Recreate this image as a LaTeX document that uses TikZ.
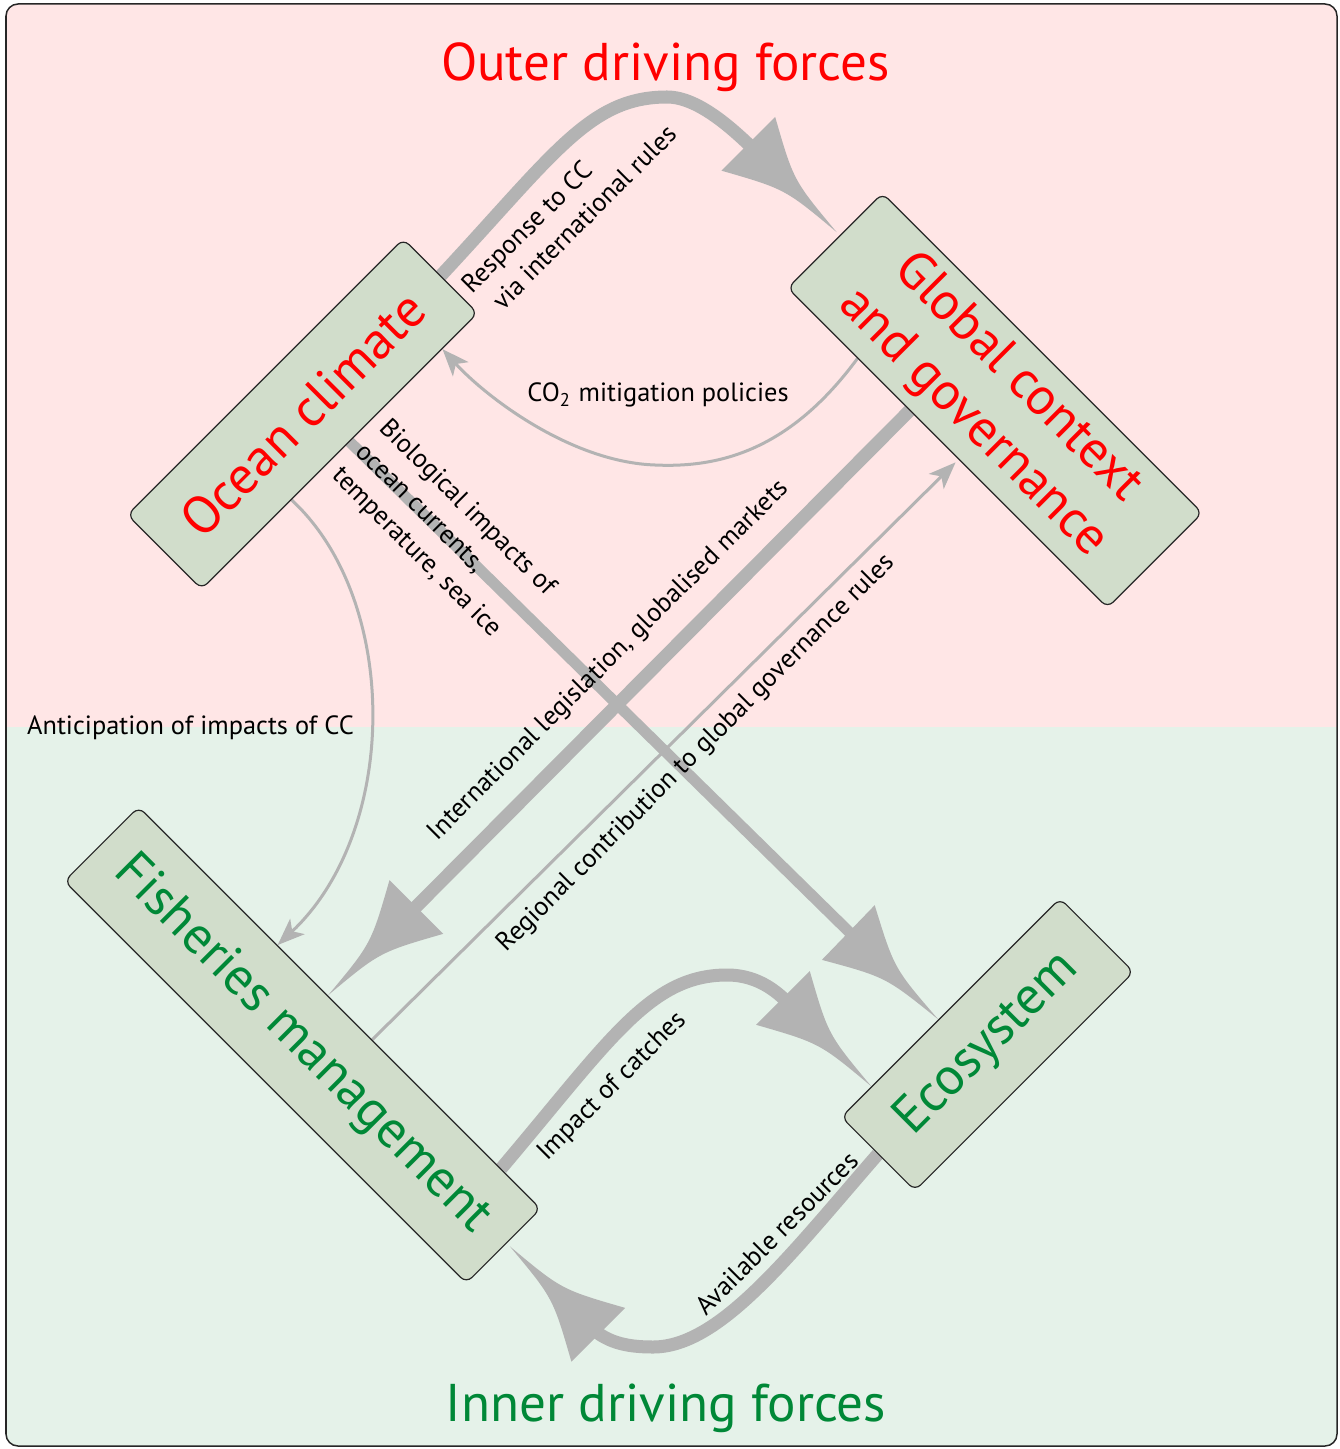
\documentclass[tikz,border=0pt]{standalone}
\usepackage{fontspec}
\setmainfont{PT Sans}
\usetikzlibrary{calc,arrows.meta}
\definecolor{pinkbg}{RGB}{255,230,230}
\definecolor{greenbg}{RGB}{229,242,233}
\definecolor{boxfill}{RGB}{209,221,203}
\definecolor{arrowgray}{RGB}{179,179,179}
\definecolor{redtext}{RGB}{255,0,0}
\definecolor{greentext}{RGB}{0,136,55}
\newcommand\lblfont{\fontsize{7.5}{9.6}\selectfont}
\newcommand\boxfont{\fontsize{15}{18}\selectfont}
\newcommand\ttlfont{\fontsize{15.1}{18}\selectfont}
\pgfdeclarelayer{bg}
\pgfdeclarelayer{arr}
\pgfsetlayers{bg,arr,main}
\tikzset{
  box/.style={draw=black!85, line width=0.012cm, fill=boxfill, rounded corners=0.08cm,
    inner sep=0pt, align=center, font=\boxfont},
  lbl/.style={inner sep=0pt, font=\lblfont, text=black},
  ttl/.style={inner sep=0pt, font=\ttlfont},
  shaft/.style={draw=arrowgray, line width=0.13cm},
  thinarr/.style={draw=arrowgray, line width=0.03cm,
    -{Stealth[length=0.27cm, width=0.21cm, inset=0.07cm]}},
  pics/bighead/.style={code={
    \fill[arrowgray] (0,0) .. controls (-67,6) .. (-125,38) -- (-125,-38)
      .. controls (-67,-6) .. (0,0) -- cycle;}}
}
\begin{document}
\begin{tikzpicture}[x=0.01cm,y=-0.01cm]
\useasboundingbox (0,0) rectangle (1339,1449);
% background
\begin{pgfonlayer}{bg}
  \begin{scope}
    \clip[rounded corners=0.12cm] (6,4) rectangle (1337,1446);
    \fill[pinkbg] (6,4) rectangle (1337,727);
    \fill[greenbg] (6,727) rectangle (1337,1446);
  \end{scope}
  \draw[rounded corners=0.12cm, line width=0.015cm, draw=black!85] (6,4) rectangle (1337,1446);
\end{pgfonlayer}

% boxes
\node[box, rotate=45, minimum width=3.9cm, minimum height=1.05cm, text=redtext]
  (oc) at (302.5,414) {Ocean climate};
\node[box, rotate=-45, minimum width=4.52cm, minimum height=1.34cm, text=redtext]
  (gc) at (995,400.5) {Global context\\and governance};
\node[box, rotate=-45, minimum width=5.68cm, minimum height=1.05cm, text=greentext]
  (fm) at (302.5,1045) {Fisheries management};
\node[box, rotate=45, minimum width=3.09cm, minimum height=1.04cm, text=greentext]
  (es) at (987.5,1044.5) {Ecosystem};

% titles
\node[ttl, text=redtext, anchor=base] (outer) at (665.5,81) {Outer driving forces};
\node[ttl, text=greentext, anchor=base] (inner) at (666,1421) {Inner driving forces};

% connector end points
\coordinate (tipA) at ($(gc.west)+(2,-8)$);
\coordinate (endA) at ($(tipA)+(-78,-78)$);
\coordinate (gS) at ($(fm.north)!0.8!(fm.north east)$);
\coordinate (tipG) at ($(es.north west)!0.28!(es.north)$);
\coordinate (endG) at ($(tipG)+(-78,-78)$);
\coordinate (tipH) at ($(fm.east)+(6,0)$);
\coordinate (endH) at ($(tipH)+(78,78)$);
\coordinate (cS) at ($(oc.south)!0.07!(oc.south east)$);
\coordinate (tipC) at ($(es.north west)!0.89!(es.north)$);
\coordinate (dS) at ($(gc.south west)!0.765!(gc.south)$);
\coordinate (tipD) at ($(fm.north west)!0.94!(fm.north)$);
\coordinate (bS) at ($(gc.south west)!0.44!(gc.south)$);
\coordinate (tipB) at ($(oc.south)!0.74!(oc.south east)$);
\coordinate (eS) at ($(fm.north)!0.16!(fm.north east)$);
\coordinate (tipE) at ($(gc.south)!0.07!(gc.south east)$);
\coordinate (fS) at ($(oc.south west)!0.65!(oc.south)$);
\coordinate (tipF) at ($(fm.north west)!0.69!(fm.north)$);

\begin{pgfonlayer}{arr}
  % Response to CC
  \draw[shaft] (oc.east) .. controls (555,153) and (590,97) .. (667,97)
     .. controls (700,97) and (737,133) .. (endA);
  \pic[rotate=-45] at (tipA) {bighead};
  % Impact of catches
  \draw[shaft] (gS) .. controls (610,1040) and (650,975) .. (727,975)
     .. controls (760,975) and (780,994) .. (endG);
  \pic[rotate=-45] at (tipG) {bighead};
  % Available resources
  \draw[shaft] (es.west) .. controls (790,1255) and (720,1347) .. (653,1347)
     .. controls (625,1347) and (605,1342) .. (endH);
  \pic[rotate=135] at (tipH) {bighead};
  % Biological impacts
  \draw[shaft, line width=0.11cm] (cS) -- ($(tipC)!1.05cm!(cS)$);
  \pic[rotate=-44] at (tipC) {bighead};
  % International legislation
  \draw[shaft] (dS) -- ($(tipD)!1.05cm!(dS)$);
  \pic[rotate=225] at (tipD) {bighead};
  % CO2 mitigation
  \draw[thinarr] (bS) .. controls (790,450) and (720,468) .. (655,465)
     .. controls (570,462) and (485,396) .. (tipB);
  % Regional contribution
  \draw[thinarr, shorten >=0.04cm] (eS) -- (tipE);
  % Anticipation
  \draw[thinarr] (fS) .. controls (400,600) and (400,830) .. (tipF);
\end{pgfonlayer}

% labels
\node[lbl, rotate=45, anchor=north west, align=left] (lA) at (458,281)
  {Response to CC\\\hspace*{0.1cm}via international rules};
\node[lbl, anchor=base] (lB) at (658,402) {CO\textsubscript{2} mitigation policies};
\node[lbl, rotate=-45, anchor=north west, align=left] (lC) at (392,415)
  {Biological impacts of\\ocean currents,\\temperature, sea ice};
\node[lbl, rotate=45] (lD) at (609,661) {International legislation, globalised markets};
\node[lbl, rotate=45] (lE) at (696.6,753.5) {Regional contribution to global governance rules};
\node[lbl, anchor=base] (lF) at (190.5,734.5) {Anticipation of impacts of CC};
\node[lbl, rotate=45] (lG) at (612.5,1086.7) {Impact of catches};
\node[lbl, rotate=45] (lH) at (776.7,1233.3) {Available resources};
\end{tikzpicture}
\end{document}
